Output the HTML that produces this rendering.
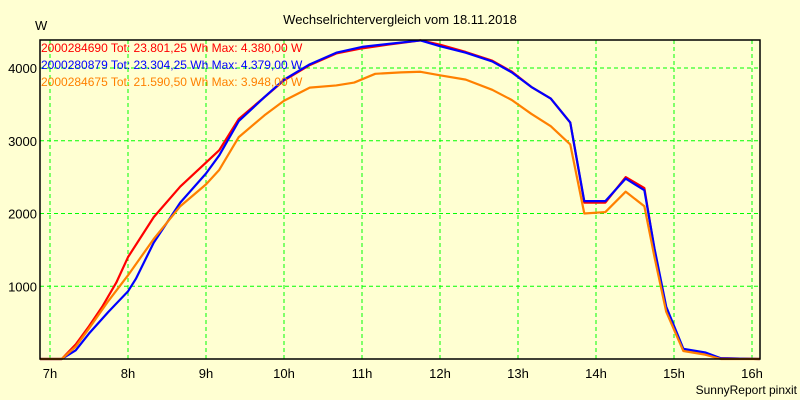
<!DOCTYPE html>
<html><head><meta charset="utf-8"><style>
body{margin:0;background:#FFFFD2;}
svg{display:block;font-family:"Liberation Sans",sans-serif;}
</style></head><body>
<svg id="chart" width="800" height="400">
<rect width="800" height="400" fill="#FFFFD2"/>
<text x="400" y="24" font-size="13" text-anchor="middle">Wechselrichtervergleich vom 18.11.2018</text>
<text x="35" y="30" font-size="13">W</text>
<text x="797" y="394" font-size="12" text-anchor="end">SunnyReport pinxit</text>
<g id="grid"></g><g id="series"></g><g id="axes"></g>
<g font-size="12">
<text x="41" y="52" fill="#ff0000">2000284690 Tot: 23.801,25 Wh Max: 4.380,00 W</text>
<text x="41" y="69" fill="#0000ff">2000280879 Tot: 23.304,25 Wh Max: 4.379,00 W</text>
<text x="41" y="86" fill="#ff8000">2000284675 Tot: 21.590,50 Wh Max: 3.948,00 W</text>
</g>
</svg>
<script>
const xTicks=[7,8,9,10,11,12,13,14,15,16];
const yTicks=[1000,2000,3000,4000];
const redT=[6.87,7.15,7.33,7.5,7.67,7.85,8.0,8.33,8.67,9.0,9.17,9.42,9.75,10.0,10.33,10.67,11.0,11.33,11.75,12.0,12.33,12.67,12.92,13.17,13.42,13.67,13.85,14.12,14.38,14.62,14.75,14.9,15.12,15.4,15.6,16.1];
const redV=[0,0,200,450,720,1050,1400,1950,2370,2700,2870,3300,3600,3830,4040,4200,4270,4320,4380,4320,4220,4100,3950,3740,3580,3250,2150,2150,2500,2350,1500,700,130,80,10,0];
const blueT=[6.87,7.15,7.33,7.5,7.75,8.0,8.1,8.33,8.67,9.0,9.17,9.42,9.75,10.0,10.33,10.67,11.0,11.33,11.75,12.0,12.33,12.67,12.92,13.17,13.42,13.67,13.85,14.12,14.38,14.62,14.75,14.9,15.12,15.4,15.6,16.1];
const blueV=[0,0,120,350,650,930,1100,1600,2150,2550,2800,3270,3600,3840,4050,4210,4290,4330,4379,4300,4210,4090,3940,3740,3580,3250,2170,2170,2480,2320,1520,720,140,90,10,0];
const orangeT=[6.87,7.15,7.33,7.5,7.75,8.0,8.33,8.67,9.0,9.17,9.42,9.75,10.0,10.33,10.67,10.9,11.17,11.5,11.75,12.0,12.33,12.67,12.92,13.17,13.42,13.67,13.85,14.12,14.38,14.62,14.75,14.9,15.12,15.4,15.6,16.1];
const orangeV=[0,0,170,420,800,1150,1650,2100,2400,2600,3050,3350,3550,3730,3760,3800,3920,3940,3948,3900,3840,3700,3560,3370,3200,2950,2000,2020,2300,2100,1400,650,110,60,0,0];
const X0=40,X1=760,Y0=359,Y1=40;
const xs=h=>50+(h-7)*78;
const ys=v=>Y0-v*0.07275;
const NS="http://www.w3.org/2000/svg";
function mk(tag,attrs,parent){const e=document.createElementNS(NS,tag);for(const k in attrs)e.setAttribute(k,attrs[k]);document.getElementById(parent).appendChild(e);return e;}
xTicks.forEach(h=>{
  const l=mk('line',{x1:xs(h),x2:xs(h),y1:Y1,y2:Y0,stroke:'#00ff00','stroke-dasharray':'4,3'},'grid');
  
  
  const t=mk('text',{x:xs(h),y:378,'font-size':13,'text-anchor':'middle'},'axes');
  t.textContent=h+'h';
  
  
});
yTicks.forEach(v=>{
  const l=mk('line',{x1:X0,x2:X1,y1:ys(v),y2:ys(v),stroke:'#00ff00','stroke-dasharray':'4,3'},'grid');
  
  
  const t=mk('text',{x:37,y:ys(v)+5,'font-size':13,'text-anchor':'end'},'axes');
  t.textContent=v;
  
  
});
const frame=mk('rect',{x:X0,y:Y1,width:X1-X0,height:Y0-Y1,fill:'none',stroke:'#000','stroke-width':1.5},'axes');


function line(T,V,color,name){
  const pts=T.map((t,i)=>Math.max(X0,Math.min(X1,xs(t)))+','+ys(V[i])).join(' ');
  const p=mk('polyline',{points:pts,fill:'none',stroke:color,'stroke-width':2.2,'stroke-linejoin':'round'},'series');
  
  
}
line(redT,redV,'#ff0000','series-2000284690');
line(blueT,blueV,'#0000ff','series-2000280879');
line(orangeT,orangeV,'#ff8000','series-2000284675');
</script>
</body></html>
